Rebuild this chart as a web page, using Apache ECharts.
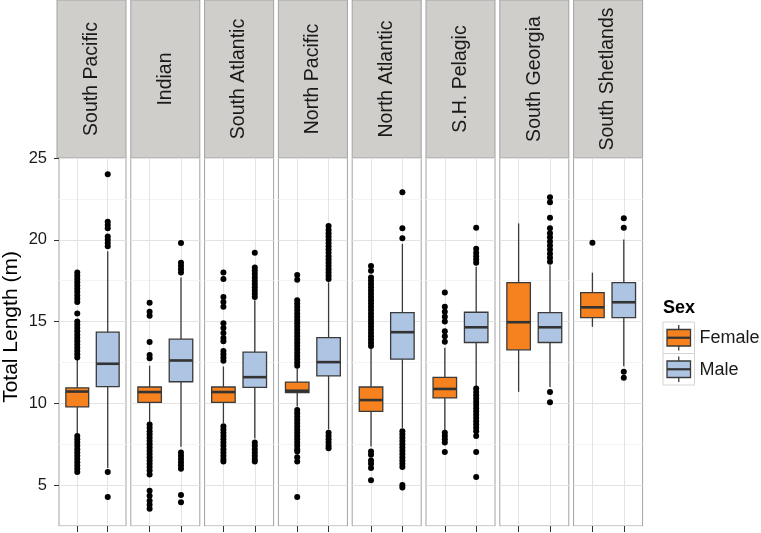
<!DOCTYPE html>
<html>
<head>
<meta charset="utf-8">
<script src="https://cdn.jsdelivr.net/npm/echarts@6/dist/echarts.min.js"></script>
<style>
html,body{margin:0;padding:0;background:#fff;}
#chart{width:761px;height:533px;}
</style>
</head>
<body>
<div id="chart"></div>
<script>
// ---- data (Total Length in metres) ----
const regions = ['South Pacific', 'Indian', 'South Atlantic', 'North Pacific',
                 'North Atlantic', 'S.H. Pelagic', 'South Georgia', 'South Shetlands'];
const sexes = ['Female', 'Male'];
const yTicks = [5, 10, 15, 20, 25];

// [lower whisker, Q1, median, Q3, upper whisker]
const femaleStats = [
  [8.15, 9.78, 10.72, 10.95, 12.7],
  [8.85, 10.06, 10.69, 11.0, 12.3],
  [8.8, 10.06, 10.69, 11.0, 12.25],
  [9.8, 10.65, 10.77, 11.3, 12.13],
  [7.36, 9.51, 10.2, 11.0, 13.35],
  [8.37, 10.33, 10.88, 11.59, 13.4],
  [10.7, 13.27, 14.96, 17.38, 21.0],
  [14.68, 15.24, 15.87, 16.77, 17.99]
];
const maleStats = [
  [6.05, 11.02, 12.42, 14.35, 19.3],
  [7.35, 11.32, 12.62, 13.92, 17.7],
  [7.85, 10.98, 11.6, 13.13, 16.3],
  [8.4, 11.68, 12.52, 14.02, 17.4],
  [8.5, 12.7, 14.35, 15.55, 19.75],
  [11.0, 13.72, 14.65, 15.57, 18.35],
  [11.0, 13.72, 14.65, 15.55, 18.45],
  [12.26, 15.24, 16.18, 17.38, 20.02]
];
const femaleOutliers = [
  [12.8, 13.0, 13.2, 13.4, 13.6, 13.8, 14.0, 14.2, 14.4, 14.6, 14.8, 15.0, 15.5, 16.2, 16.4, 16.6, 16.8, 17.0, 17.2, 17.4, 17.6, 17.8, 18.0,
   8.0, 7.8, 7.6, 7.4, 7.2, 7.0, 6.8, 6.6, 6.4, 6.2, 6.0, 5.8],
  [12.75, 12.95, 13.75, 15.35, 15.6, 16.15,
   8.7, 8.5, 8.3, 8.1, 7.9, 7.7, 7.5, 7.3, 7.1, 6.9, 6.7, 6.5, 6.3, 6.1, 5.9, 5.65, 4.65, 4.35, 4.05, 3.8, 3.55],
  [12.6, 12.8, 13.0, 13.2, 13.8, 14.0, 14.3, 14.6, 14.9, 15.9, 16.2, 16.5, 17.6, 18.0,
   8.6, 8.4, 8.2, 8.0, 7.8, 7.6, 7.4, 7.2, 7.0, 6.8, 6.6, 6.45],
  [12.3, 12.5, 12.7, 12.9, 13.1, 13.3, 13.5, 13.7, 13.9, 14.1, 14.3, 14.5, 14.7, 14.9, 15.1, 15.3, 15.5, 15.7, 15.9, 16.1, 16.3, 17.55, 17.85,
   9.6, 9.4, 9.2, 9.0, 8.8, 8.6, 8.4, 8.2, 8.0, 7.8, 7.6, 7.4, 7.2, 7.05, 6.7, 6.45, 4.27],
  [13.5, 13.7, 13.9, 14.1, 14.3, 14.5, 14.7, 14.9, 15.1, 15.3, 15.5, 15.7, 15.9, 16.1, 16.3, 16.5, 16.7, 16.9, 17.1, 17.3, 17.5, 17.7, 18.1, 18.4,
   7.05, 6.85, 6.5, 6.3, 6.05, 5.3],
  [13.76, 14.1, 14.4, 15.0, 15.3, 15.6, 15.9, 16.77,
   8.2, 8.0, 7.8, 7.6, 7.03],
  [],
  [19.82]
];
const maleOutliers = [
  [19.6, 19.8, 20.0, 20.2, 20.7, 20.9, 21.1, 24.0, 5.8, 4.27],
  [18.0, 18.2, 18.4, 18.6, 19.8, 7.0, 6.8, 6.6, 6.4, 6.2, 6.0, 4.4, 3.95],
  [16.5, 16.7, 16.9, 17.1, 17.3, 17.5, 17.7, 17.9, 18.1, 18.3, 19.2,
   7.6, 7.4, 7.2, 7.0, 6.8, 6.6, 6.45],
  [17.6, 17.8, 18.0, 18.2, 18.4, 18.6, 18.8, 19.0, 19.2, 19.4, 19.6, 19.8, 20.0, 20.2, 20.4, 20.6, 20.85,
   8.2, 8.0, 7.8, 7.6, 7.4, 7.25],
  [20.1, 20.7, 22.9,
   8.3, 8.1, 7.9, 7.7, 7.5, 7.3, 7.1, 6.9, 6.7, 6.5, 6.3, 6.1, 5.0, 4.85],
  [18.6, 18.8, 19.0, 19.2, 19.45, 20.73,
   10.9, 10.7, 10.5, 10.3, 10.1, 9.9, 9.7, 9.5, 9.3, 9.1, 8.9, 8.7, 8.5, 8.3, 8.0, 7.03, 5.49],
  [18.65, 18.9, 19.15, 19.4, 19.65, 19.9, 20.15, 20.4, 20.7, 21.35, 22.3, 22.6, 10.69, 10.06],
  [20.73, 21.32, 11.93, 11.57]
];

// ---- styles / layout ----
const FILL = ['#F5821F', '#AEC4E3'];
const EDGE = '#3a3a3a';
const FONT = 'Liberation Sans, Arial, Helvetica, sans-serif';
const P_LEFT = 57, P_PITCH = 73.8, P_W = 69, P_TOP = 158, P_H = 368;
const STRIP_TOP = 0, STRIP_H = 158;
const Y_MIN = 2.5, Y_MAX = 25;

const grids = [], xAxes = [], yAxes = [], series = [], graphics = [];

regions.forEach((name, i) => {
  const left = P_LEFT + i * P_PITCH;
  grids.push({left: left, top: P_TOP, width: P_W, height: P_H, show: true,
    backgroundColor: '#ffffff', borderColor: '#a3a3a3', borderWidth: 1});
  xAxes.push({gridIndex: i, type: 'value', min: 0.4, max: 2.6,
    axisLine: {show: false},
    axisTick: {show: true, customValues: [1, 2], length: 6, lineStyle: {color: '#333', width: 1}},
    axisLabel: {show: false},
    splitLine: {show: true, lineStyle: {color: '#e3e3e3', width: 1}}});
  yAxes.push({gridIndex: i, type: 'value', min: Y_MIN, max: Y_MAX, interval: 2.5,
    axisLine: {show: false}, axisTick: {show: false}, axisLabel: {show: false},
    splitLine: {show: true, lineStyle: {color: ['#f4f4f4', '#e3e3e3'], width: 1}}});

  const boxData = [
    [1].concat(femaleStats[i], [0]),
    [2].concat(maleStats[i], [1])
  ];
  series.push({
    type: 'custom', xAxisIndex: i, yAxisIndex: i, z: 3,
    dimensions: ['x', 'lo', 'q1', 'med', 'q3', 'hi', 'sex'],
    encode: {x: 0, y: [1, 2, 3, 4, 5]},
    data: boxData,
    renderItem: function (params, api) {
      const x = api.value(0);
      const pLo = api.coord([x, api.value(1)]);
      const pQ1 = api.coord([x, api.value(2)]);
      const pMed = api.coord([x, api.value(3)]);
      const pQ3 = api.coord([x, api.value(4)]);
      const pHi = api.coord([x, api.value(5)]);
      const hw = api.size([0.75, 0])[0] / 2;
      const fill = FILL[api.value(6)];
      return {type: 'group', children: [
        {type: 'line', shape: {x1: pLo[0], y1: pLo[1], x2: pQ1[0], y2: pQ1[1]},
          style: {stroke: EDGE, lineWidth: 1.3}},
        {type: 'line', shape: {x1: pQ3[0], y1: pQ3[1], x2: pHi[0], y2: pHi[1]},
          style: {stroke: EDGE, lineWidth: 1.3}},
        {type: 'rect', shape: {x: pQ1[0] - hw, y: pQ3[1], width: hw * 2, height: pQ1[1] - pQ3[1]},
          style: {fill: fill, stroke: EDGE, lineWidth: 1.3}},
        {type: 'line', shape: {x1: pMed[0] - hw, y1: pMed[1], x2: pMed[0] + hw, y2: pMed[1]},
          style: {stroke: '#333', lineWidth: 2.6}}
      ]};
    }
  });
  const pts = femaleOutliers[i].map(v => [1, v]).concat(maleOutliers[i].map(v => [2, v]));
  series.push({type: 'scatter', xAxisIndex: i, yAxisIndex: i, z: 4, symbol: 'circle',
    symbolSize: 6, itemStyle: {color: '#000', opacity: 1}, data: pts, silent: true});

  // facet strip
  graphics.push({type: 'rect', shape: {x: left, y: STRIP_TOP, width: P_W, height: STRIP_H},
    style: {fill: '#cfcecb', stroke: '#a3a3a3', lineWidth: 1}, z: 0});
  graphics.push({type: 'text', x: left + P_W / 2, y: STRIP_TOP + STRIP_H / 2, rotation: Math.PI / 2,
    style: {text: name, fontSize: 19.5, fontFamily: FONT, fill: '#1a1a1a', align: 'center', verticalAlign: 'middle'}, z: 1});
});

// y axis with labels (first panel)
yAxes.push({gridIndex: 0, type: 'value', position: 'left', min: Y_MIN, max: Y_MAX,
  axisLine: {show: false},
  axisTick: {show: true, customValues: yTicks, length: 5, lineStyle: {color: '#333'}},
  axisLabel: {show: true, customValues: yTicks, fontSize: 16.5, fontFamily: FONT, color: '#1a1a1a', margin: 12},
  splitLine: {show: false},
  name: 'Total Length (m)', nameLocation: 'middle', nameGap: 37,
  nameTextStyle: {fontSize: 21, fontFamily: FONT, color: '#000', padding: [0, 0, 0, 30]}});

// legend (drawn)
const LX = 663, LY = 322, KS = 31.5;
graphics.push({type: 'text', x: LX, y: 308, style: {text: 'Sex', fontSize: 18, fontWeight: 'bold',
  fontFamily: FONT, fill: '#000', align: 'left', verticalAlign: 'middle'}});
sexes.forEach((s, k) => {
  const y0 = LY + k * KS;
  const cx = LX + KS / 2;
  graphics.push({type: 'rect', shape: {x: LX, y: y0, width: KS, height: KS},
    style: {fill: '#fff', stroke: '#d4d4d4', lineWidth: 1}});
  graphics.push({type: 'line', shape: {x1: cx, y1: y0 + 3, x2: cx, y2: y0 + KS - 3},
    style: {stroke: EDGE, lineWidth: 1.3}});
  graphics.push({type: 'rect', shape: {x: LX + 4, y: y0 + 7.5, width: KS - 8, height: KS - 15},
    style: {fill: FILL[k], stroke: EDGE, lineWidth: 1.3}});
  graphics.push({type: 'line', shape: {x1: LX + 4, y1: y0 + KS / 2, x2: LX + KS - 4, y2: y0 + KS / 2},
    style: {stroke: '#333', lineWidth: 2.2}});
  graphics.push({type: 'text', x: LX + KS + 5, y: y0 + KS / 2 + 0.5,
    style: {text: s, fontSize: 18, fontFamily: FONT, fill: '#1a1a1a', align: 'left', verticalAlign: 'middle'}});
});

const chart = echarts.init(document.getElementById('chart'), null, {renderer: 'canvas'});
chart.setOption({
  animation: false,
  backgroundColor: '#ffffff',
  textStyle: {fontFamily: FONT},
  grid: grids,
  xAxis: xAxes,
  yAxis: yAxes,
  series: series,
  graphic: {elements: graphics}
});
</script>
</body>
</html>
